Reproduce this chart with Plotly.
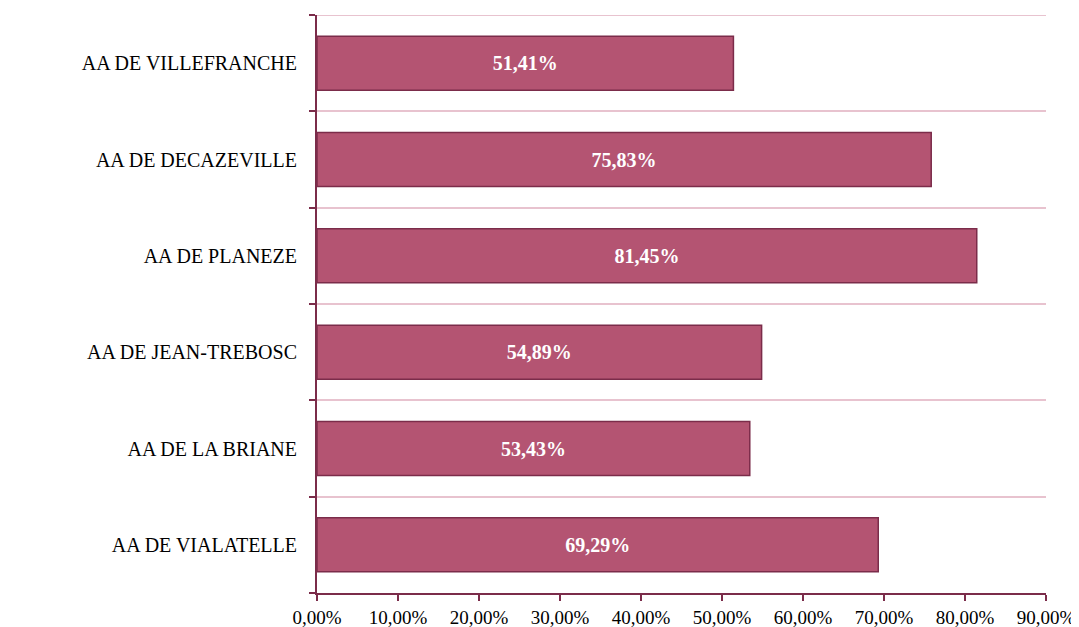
import plotly.graph_objects as go

categories = ["AA DE VIALATELLE", "AA DE LA BRIANE", "AA DE JEAN-TREBOSC",
              "AA DE PLANEZE", "AA DE DECAZEVILLE", "AA DE VILLEFRANCHE"]
values = [69.29, 53.43, 54.89, 81.45, 75.83, 51.41]

axis_color = "#7B2C4A"
grid_color = "#E8C3CF"
fig = go.Figure(go.Bar(
    x=values, y=categories, orientation="h",
    marker=dict(color="#B45472", line=dict(color="#7B2C4A", width=1.5)),
    width=0.56,
    texttemplate="%{x:.2f}%", textposition="inside", insidetextanchor="middle",
    textfont=dict(family="Liberation Serif", size=20, color="white", weight="bold"),
    textangle=0,
))
fig.update_layout(
    width=1071, height=619,
    margin=dict(l=309, r=33, t=7, b=34, autoexpand=False),
    plot_bgcolor="white", paper_bgcolor="white",
    separators=", ",
    showlegend=False,
    font=dict(family="Liberation Serif", color="black"),
    shapes=[dict(type="line", xref="paper", yref="y", x0=0, x1=1,
                 y0=len(categories) - 0.5, y1=len(categories) - 0.5,
                 line=dict(color=grid_color, width=2), layer="below")],
)
fig.update_xaxes(
    range=[0, 90], dtick=10, tick0=0, tickformat=".2f", ticksuffix="%",
    showgrid=False, zeroline=False, automargin=False,
    showline=True, linecolor=axis_color, linewidth=2,
    ticks="outside", ticklen=6, tickcolor=axis_color, tickwidth=2,
    tickfont=dict(size=19, family="Liberation Serif", color="black"),
)
fig.update_yaxes(
    type="category", categoryorder="array", categoryarray=categories,
    range=[-0.5, 5.5], tickson="boundaries", automargin=False,
    showgrid=True, gridcolor=grid_color, gridwidth=2,
    showline=True, linecolor=axis_color, linewidth=2,
    ticks="outside", ticklen=6, tickcolor=axis_color, tickwidth=2,
    tickfont=dict(size=20, family="Liberation Serif", color="black"),
    ticklabelstandoff=14,
)
fig.write_html("out.html")
